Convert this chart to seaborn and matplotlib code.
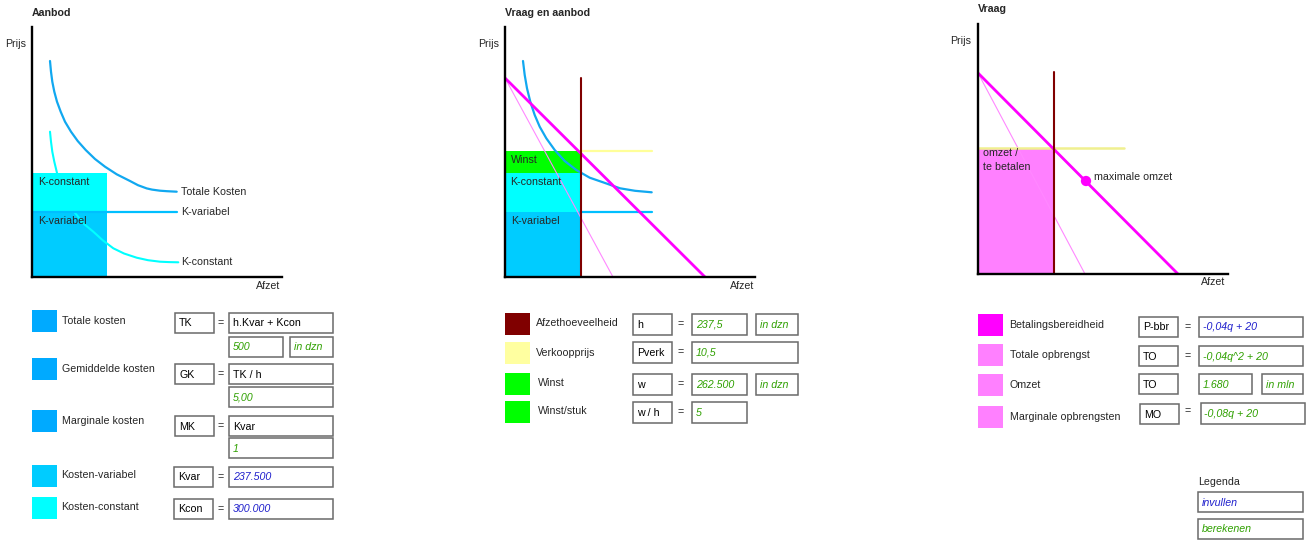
import matplotlib
matplotlib.use("Agg")
import matplotlib.pyplot as plt
import seaborn as sns
from matplotlib.patches import Rectangle

# ---------------- data (chart units: afzet q, prijs p) -------------
# Panel 1 "Aanbod"
tk_q = [18, 19, 20.3, 22.3, 25, 28.7, 33, 39, 45.7, 53.7, 63, 73, 84.7, 98, 106, 114.7, 120, 128, 135, 144.7]
tk_p = [216, 205.3, 195.3, 185.3, 175.3, 165.3, 155.3, 145.3, 136, 127, 118, 110.3, 102.7, 96, 91.8, 88.6, 87.4, 86.3, 85.8, 85.3]
kcon_q = [18, 19, 20.3, 22.3, 24.7, 27.7, 31.3, 37.5, 44.7, 52, 61.3, 71, 81.3, 92, 104.7, 116, 128, 137, 146.3]
kcon_p = [145.3, 135.3, 125.3, 115.3, 105.3, 93, 82, 71, 62, 53, 45.3, 36.5, 28.7, 23.5, 19.3, 16.8, 15.3, 14.9, 14.7]
kvar_q = [0, 144.7]
kvar_p = [65, 65]
h1 = 75
seg1_names = ["K-variabel", "K-constant"]
seg1_height = [65, 39]

# Panel 2 "Vraag en aanbod"
tk2_q = [18, 19.7, 22, 25.3, 29.7, 34.7, 41.3, 49.7, 59.7, 71.3, 84.7, 98, 115, 130, 146.7]
tk2_p = [216, 202, 188.7, 175.3, 162, 150.3, 138.7, 127, 116, 107, 99.3, 94.7, 88.7, 86.2, 84.7]
kvar2_q = [75, 147]
kvar2_p = [65, 65]
pverk2_q = [75, 147]
pverk2_p = [126, 126]
vraag2_q = [0, 200]
vraag2_p = [199, 0]
mo2_q = [0, 108]
mo2_p = [199, 0]
h2 = 75.5
h2_top = 199
seg2_names = ["K-variabel", "K-constant", "Winst"]
seg2_height = [65, 39, 22]

# Panel 3 "Vraag"
vraag3_q = [0, 200]
vraag3_p = [201, 0]
mo3_q = [0, 107]
mo3_p = [201, 0]
h3 = 76
h3_top = 202
pverk3_q = [0, 146]
pverk3_p = [126.3, 126.3]
omzet3_height = 126.3
max_omzet_q = [108]
max_omzet_p = [93]

# Tables
t1_colors = ["#00AAFF", "#00AAFF", "#00AAFF", "#00CCFF", "#00FFFF"]
t1_labels = ["Totale kosten", "Gemiddelde kosten", "Marginale kosten", "Kosten-variabel", "Kosten-constant"]
t1_symbols = ["TK", "GK", "MK", "Kvar", "Kcon"]
t1_values = ["h.Kvar + Kcon", "TK / h", "Kvar", "237.500", "300.000"]
t1_value_kind = ["f", "f", "f", "i", "i"]
t1_results = ["500", "5,00", "1", None, None]
t1_units = ["in dzn", None, None, None, None]

t2_colors = ["#800000", "#FFFFA0", "#00FF00", "#00FF00"]
t2_labels = ["Afzethoeveelheid", "Verkoopprijs", "Winst", "Winst/stuk"]
t2_symbols = ["h", "Pverk", "w", "w / h"]
t2_values = ["237,5", "10,5", "262.500", "5"]
t2_units = ["in dzn", None, "in dzn", None]

t3_colors = ["#FF00FF", "#FF80FF", "#FF80FF", "#FF80FF"]
t3_labels = ["Betalingsbereidheid", "Totale opbrengst", "Omzet", "Marginale opbrengsten"]
t3_symbols = ["P-bbr", "TO", "TO", "MO"]
t3_values = ["-0,04q + 20", "-0,04q^2 + 20", "1.680", "-0,08q + 20"]
t3_value_kind = ["i", "b", "b", "b"]
t3_units = [None, None, "in mln", None]
t3_equals = [True, True, False, True]

legend_title = "Legenda"
legend_items = ["invullen", "berekenen"]
legend_kind = ["i", "b"]

# ---------------- styling -------------
sns.set_style("white")
plt.rcParams["font.family"] = ["Liberation Sans", "DejaVu Sans"]
FS = 7.7
BLUE_T = "#1f1fcc"
GREEN_T = "#2fa000"
KIND_COLOR = {"f": "black", "i": BLUE_T, "b": GREEN_T}
BOX_EC = "#6a6a6a"

W, H = 1309, 543
fig = plt.figure(figsize=(W / 100, H / 100), dpi=100)
ov = fig.add_axes([0, 0, 1, 1])
ov.set_xlim(0, W)
ov.set_ylim(H, 0)
ov.axis("off")


def panel(x0, ybase):
    ax = fig.add_axes([x0 / W, (H - ybase) / H, 250 / W, 250 / H])
    ax.set_xlim(0, 250)
    ax.set_ylim(0, 250)
    ax.patch.set_alpha(0)
    for s in ["top", "right"]:
        ax.spines[s].set_visible(False)
    for s in ["left", "bottom"]:
        ax.spines[s].set_color("black")
        ax.spines[s].set_linewidth(1.7)
        ax.spines[s].set_zorder(6)
    ax.set_xticks([])
    ax.set_yticks([])
    ax.margins(0)
    return ax


def line(ax, x, y, color, lw, z=3):
    sns.lineplot(x=x, y=y, ax=ax, color=color, linewidth=lw, sort=False,
                 estimator=None, legend=False, zorder=z)


# ---------------- panel 1 -------------
ax1 = panel(32, 277)
bottoms = 0
for name, hgt, col in zip(seg1_names, seg1_height, ["#00CCFF", "#00FFFF"]):
    ax1.bar(0, hgt, width=h1, bottom=bottoms, align="edge", color=col, linewidth=0, zorder=1)
    bottoms += hgt
line(ax1, kcon_q, kcon_p, "#00FFFF", 1.5)
line(ax1, tk_q, tk_p, "#11A8F0", 1.6)
line(ax1, kvar_q, kvar_p, "#00BFFF", 1.6)
ax1.text(tk_q[-1] + 4.5, tk_p[-1], "Totale Kosten", fontsize=FS, va="center", ha="left", clip_on=False)
ax1.text(kvar_q[-1] + 4.5, kvar_p[-1], "K-variabel", fontsize=FS, va="center", ha="left", clip_on=False)
ax1.text(kcon_q[-1] + 2.5, kcon_p[-1], "K-constant", fontsize=FS, va="center", ha="left", clip_on=False)
ax1.text(6, 95, "K-constant", fontsize=FS, va="center", ha="left", zorder=5)
ax1.text(6, 56, "K-variabel", fontsize=FS, va="center", ha="left", zorder=5)

# ---------------- panel 2 -------------
ax2 = panel(505, 277)
bottoms = 0
for name, hgt, col in zip(seg2_names, seg2_height, ["#00CCFF", "#00FFFF", "#00FF00"]):
    ax2.bar(0, hgt, width=h2, bottom=bottoms, align="edge", color=col, linewidth=0, zorder=1)
    bottoms += hgt
line(ax2, pverk2_q, pverk2_p, "#FFFF99", 1.6)
line(ax2, kvar2_q, kvar2_p, "#00BFFF", 1.6)
line(ax2, mo2_q, mo2_p, "#FF88FF", 0.8)
line(ax2, tk2_q, tk2_p, "#11A8F0", 1.6)
line(ax2, vraag2_q, vraag2_p, "#FF00FF", 2.0, z=4)
line(ax2, [h2, h2], [0, h2_top], "#800000", 1.5, z=4)
ax2.text(6, 117, "Winst", fontsize=FS, va="center", ha="left", zorder=5)
ax2.text(5, 95, "K-constant", fontsize=FS, va="center", ha="left", zorder=5)
ax2.text(6, 56, "K-variabel", fontsize=FS, va="center", ha="left", zorder=5)

# ---------------- panel 3 -------------
ax3 = panel(978, 274)
ax3.bar(0, omzet3_height, width=h3, align="edge", color="#FF80FF", linewidth=0, zorder=1)
line(ax3, mo3_q, mo3_p, "#FF88FF", 0.8)
line(ax3, pverk3_q, pverk3_p, "#F0F090", 1.8)
line(ax3, vraag3_q, vraag3_p, "#FF00FF", 2.0, z=4)
line(ax3, [h3, h3], [0, h3_top], "#800000", 1.5, z=4)
sns.scatterplot(x=max_omzet_q, y=max_omzet_p, ax=ax3, color="#FF00FF", s=55,
                edgecolor="none", zorder=5, legend=False)
ax3.text(max_omzet_q[0] + 8, max_omzet_p[0] + 4, "maximale omzet", fontsize=FS,
         va="center", ha="left", zorder=5)
ax3.text(5, 121, "omzet /", fontsize=FS, va="center", ha="left", zorder=5)
ax3.text(5, 107, "te betalen", fontsize=FS, va="center", ha="left", zorder=5)

# ---------------- titles / axis names -------------
for x, y, t in [(32, 13, "Aanbod"), (505, 13, "Vraag en aanbod"), (978, 9, "Vraag")]:
    ov.text(x, y, t, fontsize=FS, fontweight="bold", va="center", ha="left")
for x, y in [(5, 44), (478, 44), (950, 41)]:
    ov.text(x, y, "Prijs", fontsize=FS, va="center", ha="left")
for x, y in [(280, 286), (754, 286), (1225, 282)]:
    ov.text(x, y, "Afzet", fontsize=FS, va="center", ha="right")


# ---------------- tables -------------
def box(x0, y0, x1, y1, text, color="black", italic=False):
    ov.add_patch(Rectangle((x0, y0), x1 - x0, y1 - y0, facecolor="white",
                           edgecolor=BOX_EC, linewidth=1.1))
    ov.text(x0 + 4, (y0 + y1) / 2 + 0.5, text, fontsize=FS, va="center", ha="left",
            color=color, style="italic" if italic else "normal")


def swatch(x0, y0, x1, y1, col):
    ov.add_patch(Rectangle((x0, y0), x1 - x0, y1 - y0, facecolor=col, edgecolor="none"))


# table 1
sw_tops1 = [310, 358, 410, 465, 497]
box_tops1 = [313, 364, 416, 467, 499]
res_tops1 = [337, 387, 438]
for i in range(5):
    swatch(32, sw_tops1[i], 57, sw_tops1[i] + 22, t1_colors[i])
    ov.text(62.5 if i < 3 else 61.5, sw_tops1[i] + 10.5, t1_labels[i], fontsize=FS, va="center", ha="left")
    bx = 175 if i < 3 else 174
    box(bx, box_tops1[i], bx + 39, box_tops1[i] + 20, t1_symbols[i])
    ov.text(221, box_tops1[i] + 10, "=", fontsize=FS, va="center", ha="center")
    k = t1_value_kind[i]
    box(229, box_tops1[i], 333, box_tops1[i] + 20, t1_values[i], KIND_COLOR[k], k != "f")
    if t1_results[i] is not None:
        r0 = res_tops1[i]
        if t1_units[i] is not None:
            box(229, r0, 283, r0 + 20, t1_results[i], GREEN_T, True)
            box(290, r0, 333, r0 + 20, t1_units[i], GREEN_T, True)
        else:
            box(229, r0, 333, r0 + 20, t1_results[i], GREEN_T, True)

# table 2
sw_tops2 = [313, 342, 373, 401]
box_tops2 = [314, 342, 374, 402]
for i in range(4):
    swatch(505, sw_tops2[i], 530, sw_tops2[i] + 21.5, t2_colors[i])
    ov.text(536 if i < 2 else 538, sw_tops2[i] + 10.5, t2_labels[i], fontsize=FS, va="center", ha="left")
    box(633, box_tops2[i], 672, box_tops2[i] + 20.5, t2_symbols[i])
    ov.text(681, box_tops2[i] + 10, "=", fontsize=FS, va="center", ha="center")
    if t2_units[i] is not None:
        box(692, box_tops2[i], 747, box_tops2[i] + 20.5, t2_values[i], GREEN_T, True)
        box(756, box_tops2[i], 798, box_tops2[i] + 20.5, t2_units[i], GREEN_T, True)
    elif i == 1:
        box(692, box_tops2[i], 798, box_tops2[i] + 20.5, t2_values[i], GREEN_T, True)
    else:
        box(692, box_tops2[i], 747, box_tops2[i] + 20.5, t2_values[i], GREEN_T, True)

# table 3
sw_tops3 = [314, 344, 374, 406]
box_tops3 = [317, 346, 374, 404]
for i in range(4):
    swatch(978, sw_tops3[i], 1003, sw_tops3[i] + 22, t3_colors[i])
    ov.text(1009.5, sw_tops3[i] + 10.5, t3_labels[i], fontsize=FS, va="center", ha="left")
    bx = 1139 if i < 3 else 1140
    box(bx, box_tops3[i], bx + 39, box_tops3[i] + 20, t3_symbols[i])
    if t3_equals[i]:
        ov.text(1188, box_tops3[i] + (10 if i < 3 else 7), "=", fontsize=FS, va="center", ha="center")
    k = t3_value_kind[i]
    vx = 1199 if i < 3 else 1200.5
    if t3_units[i] is not None:
        box(vx, box_tops3[i], 1252, box_tops3[i] + 20, t3_values[i], KIND_COLOR[k], True)
        box(1262, box_tops3[i], 1303, box_tops3[i] + 20, t3_units[i], KIND_COLOR[k], True)
    else:
        box(vx, box_tops3[i] - (1 if i == 3 else 0), 1303 if i < 3 else 1305, box_tops3[i] + 20,
            t3_values[i], KIND_COLOR[k], True)

# legenda
ov.text(1198, 482, legend_title, fontsize=FS, va="center", ha="left")
for top, txt, k in zip([492, 519], legend_items, legend_kind):
    box(1198, top, 1303, top + 20, txt, KIND_COLOR[k], True)

fig.savefig("out.png", dpi=100)
